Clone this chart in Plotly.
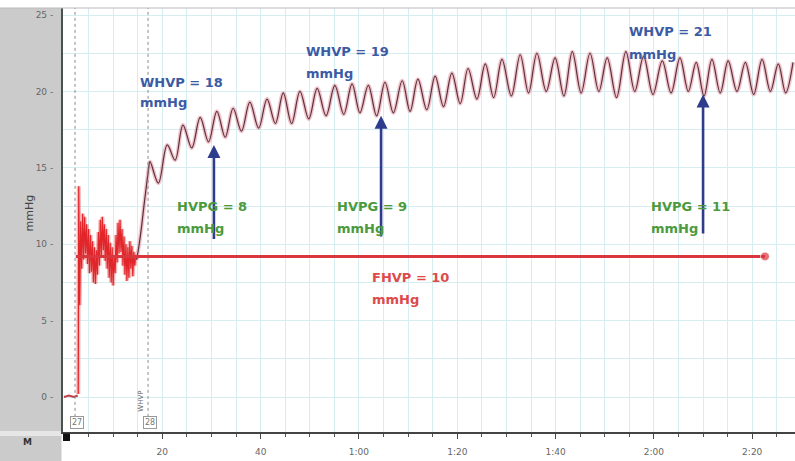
import plotly.graph_objects as go

# ---------------- data ----------------
# time in seconds, pressure in mmHg
baseline_t = [0.0, 1.0, 2.0, 2.8]
baseline_p = [0.0, 0.1, 0.0, 0.1]

noise_t = [2.9, 3.0, 3.2, 3.4, 3.6, 3.8, 4.0, 4.2, 4.4, 4.6, 4.8, 5.0, 5.2, 5.4, 5.6, 5.8,
           6.0, 6.2, 6.4, 6.6, 6.8, 7.0, 7.2, 7.4, 7.6, 7.8, 8.0, 8.2, 8.4, 8.6, 8.8,
           9.0, 9.2, 9.4, 9.6, 9.8, 10.0, 10.2, 10.4, 10.6, 10.8, 11.0, 11.2, 11.4,
           11.6, 11.8, 12.0, 12.2, 12.4, 12.6, 12.8, 13.0, 13.2, 13.4, 13.6, 13.8,
           14.0, 14.2, 14.4, 14.6, 14.8]
noise_p = [0.2, 13.8, 6.0, 11.5, 8.4, 12.0, 9.0, 11.8, 9.4, 11.3, 8.7, 11.0, 8.1, 10.6, 8.2, 10.2,
           7.5, 9.8, 7.4, 9.6, 8.0, 10.8, 8.6, 11.6, 9.2, 11.8, 9.6, 11.3, 8.9, 11.0, 8.4,
           10.6, 7.8, 10.1, 7.5, 9.8, 7.3, 9.3, 8.1, 10.6, 8.8, 11.4, 9.4, 11.6,
           9.5, 11.0, 8.6, 10.5, 8.0, 10.0, 7.6, 9.8, 7.8, 10.2, 8.4, 9.9,
           7.9, 9.5, 8.6, 9.3, 9.0]

rise_t = [14.8, 15.3, 15.8, 16.3, 16.8, 17.2]
rise_p = [9.0, 10.0, 11.2, 12.6, 13.9, 14.9]

peak_t = [17.5, 21.0, 24.2, 27.7, 31.1, 34.4, 37.8, 41.3, 44.6, 48.0, 51.5, 55.1, 58.6,
          61.9, 65.3, 68.8, 72.0, 75.5, 78.9, 82.2, 85.7, 89.1, 92.8, 96.2, 99.9, 103.4,
          107.0, 110.5, 114.3, 117.9, 121.7, 125.3, 128.6, 131.8, 135.1, 138.6, 142.0,
          145.3, 148.3]
peak_p = [15.4, 16.5, 17.8, 18.3, 18.7, 18.9, 19.3, 19.5, 19.9, 20.0, 20.2, 20.4, 20.5,
          20.4, 20.6, 20.7, 20.8, 21.0, 21.2, 21.5, 21.8, 22.1, 22.4, 22.5, 22.2, 22.6,
          22.5, 22.2, 22.6, 22.3, 22.0, 22.2, 21.9, 22.1, 22.0, 21.9, 22.1, 21.8, 21.9]
trough_t = [19.2, 22.6, 26.0, 29.4, 32.8, 36.1, 39.6, 43.0, 46.3, 49.8, 53.3, 56.9, 60.2,
            63.6, 67.0, 70.4, 73.8, 77.2, 80.6, 84.0, 87.4, 91.0, 94.5, 98.1, 101.7, 105.2,
            108.8, 112.4, 116.1, 119.8, 123.5, 127.0, 130.2, 133.5, 136.9, 140.3, 143.7,
            146.8]
trough_p = [14.0, 15.5, 16.3, 16.7, 17.0, 17.4, 17.6, 17.9, 17.9, 18.2, 18.4, 18.5, 18.6,
            18.4, 18.6, 18.7, 18.8, 19.0, 19.2, 19.5, 19.6, 19.7, 19.9, 20.0, 19.7, 19.9,
            20.0, 19.6, 20.0, 19.8, 19.9, 20.0, 19.7, 19.9, 20.0, 19.8, 20.0, 19.9]

fhvp_t = [2.4, 142.6]
fhvp_p = [9.2, 9.2]

arrow_t = [30.5, 64.5, 130.0]
arrow_bottom = [10.25, 10.4, 10.6]
arrow_top = [16.5, 18.4, 19.8]

whvp_labels = ["WHVP = 18", "WHVP = 19", "WHVP = 21"]
whvp_t = [15.1, 48.8, 114.5]
whvp_p = [20.6, 22.6, 23.9]
whvp_unit_p = [19.25, 21.2, 22.4]

hvpg_labels = ["HVPG = 8", "HVPG = 9", "HVPG = 11"]
hvpg_t = [22.6, 55.1, 119.0]
hvpg_p = [12.5, 12.5, 12.5]
hvpg_unit_p = [11.0, 11.0, 11.0]

fhvp_label = "FHVP = 10"
fhvp_label_t = 62.3
fhvp_label_p = 7.8
fhvp_unit_p = 6.35

x_tickvals = [20, 40, 60, 80, 100, 120, 140]
x_ticktext = ["20", "40", "1:00", "1:20", "1:40", "2:00", "2:20"]
y_tickvals = [0, 5, 10, 15, 20, 25]
y_ticktext = ["0 -", "5 -", "10 -", "15 -", "20 -", "25 -"]

marker_t = [2.25, 17.1]
marker_labels = ["27", "28"]

# ---------------- layout geometry ----------------
W, H = 795, 461
ML, MR, MT, MB = 63, 0, 8, 29
PW = W - ML - MR
PH = H - MT - MB

# merge peaks and troughs into one trace
main_pts = sorted(list(zip(peak_t, peak_p)) + list(zip(trough_t, trough_p)))
main_t = rise_t + [a for a, b in main_pts]
main_p = rise_p + [b for a, b in main_pts]

fig = go.Figure()

fig.add_trace(go.Scatter(x=baseline_t, y=baseline_p, mode="lines",
                         line=dict(color="#c0404a", width=2), hoverinfo="skip"))
fig.add_trace(go.Scatter(x=noise_t, y=noise_p, mode="lines",
                         line=dict(color="rgba(235,70,70,0.4)", width=4), hoverinfo="skip"))
fig.add_trace(go.Scatter(x=noise_t, y=noise_p, mode="lines",
                         line=dict(color="#e0262b", width=1.2), hoverinfo="skip"))
fig.add_trace(go.Scatter(x=main_t, y=main_p, mode="lines",
                         line=dict(color="rgba(225,125,135,0.45)", width=4, shape="spline", smoothing=1),
                         hoverinfo="skip"))
fig.add_trace(go.Scatter(x=main_t, y=main_p, mode="lines",
                         line=dict(color="#5a3040", width=1.2, shape="spline", smoothing=1),
                         hoverinfo="skip"))
fig.add_trace(go.Scatter(x=fhvp_t, y=fhvp_p, mode="lines+markers",
                         line=dict(color="#d9363e", width=3),
                         marker=dict(size=[0, 9], color="#d9363e"), hoverinfo="skip"))

ann = []
for t, b, tp in zip(arrow_t, arrow_bottom, arrow_top):
    ann.append(dict(x=t, y=tp, ax=t, ay=b, xref="x", yref="y", axref="x", ayref="y",
                    text="", showarrow=True, arrowhead=2, arrowsize=1, arrowwidth=2.6,
                    arrowcolor="#2d3c8c"))

lab_font = "DejaVu Sans"
for txt, t, p, up in zip(whvp_labels, whvp_t, whvp_p, whvp_unit_p):
    ann.append(dict(x=t, y=p, text=f"<b>{txt}</b>", showarrow=False, xanchor="left",
                    yanchor="middle", font=dict(family=lab_font, size=13, color="#3b5ba5")))
    ann.append(dict(x=t, y=up, text="<b>mmHg</b>", showarrow=False, xanchor="left",
                    yanchor="middle", font=dict(family=lab_font, size=13, color="#3b5ba5")))
for txt, t, p, up in zip(hvpg_labels, hvpg_t, hvpg_p, hvpg_unit_p):
    ann.append(dict(x=t, y=p, text=f"<b>{txt}</b>", showarrow=False, xanchor="left",
                    yanchor="middle", font=dict(family=lab_font, size=13, color="#4c9a3c")))
    ann.append(dict(x=t, y=up, text="<b>mmHg</b>", showarrow=False, xanchor="left",
                    yanchor="middle", font=dict(family=lab_font, size=13, color="#4c9a3c")))
ann.append(dict(x=fhvp_label_t, y=fhvp_label_p, text=f"<b>{fhvp_label}</b>", showarrow=False,
                xanchor="left", yanchor="middle",
                font=dict(family=lab_font, size=13, color="#dc4a4a")))
ann.append(dict(x=fhvp_label_t, y=fhvp_unit_p, text="<b>mmHg</b>", showarrow=False,
                xanchor="left", yanchor="middle",
                font=dict(family=lab_font, size=13, color="#dc4a4a")))

# event marker boxes
for t, lab in zip(marker_t, marker_labels):
    ann.append(dict(x=t + 0.3, y=-1.7, text=lab, showarrow=False, xanchor="center",
                    yanchor="middle", bordercolor="#999", borderwidth=1, borderpad=1,
                    bgcolor="white", font=dict(family="DejaVu Sans", size=8, color="#777")))
ann.append(dict(x=15.5, y=-0.3, text="WHVP", textangle=-90, showarrow=False,
                font=dict(family="DejaVu Sans", size=7, color="#666")))

# y axis title and corner letter
ann.append(dict(xref="paper", yref="paper", x=(21 - ML) / PW, y=1 - (213 - MT) / PH,
                text="mmHg", textangle=-90, showarrow=False,
                font=dict(family="DejaVu Sans", size=11, color="#444")))
ann.append(dict(xref="paper", yref="paper", x=(21 - ML) / PW, y=1 - (449 - MT) / PH,
                text="<b>M</b>", showarrow=False,
                font=dict(family="DejaVu Sans", size=9, color="#333")))

shapes = [
    dict(type="rect", xref="paper", yref="paper", x0=-ML / PW, x1=-1.5 / PW,
         y0=-MB / PH, y1=1, fillcolor="#cbcbcb", line=dict(width=0), layer="below"),
    dict(type="rect", xref="paper", yref="paper", x0=-ML / PW, x1=-1.5 / PW,
         y0=-4 / PH, y1=1 / PH, fillcolor="#e6e6e6", line=dict(width=0), layer="below"),
    dict(type="line", xref="paper", yref="paper", x0=-ML / PW, x1=1, y0=1, y1=1,
         line=dict(color="#bbbbbb", width=1)),
    dict(type="rect", xref="paper", yref="paper", x0=0, x1=7 / PW,
         y0=-9 / PH, y1=-1.5 / PH, fillcolor="#111", line=dict(width=0)),
]
for t in marker_t:
    shapes.append(dict(type="line", xref="x", yref="y", x0=t, x1=t, y0=-1.3, y1=25.46,
                       line=dict(color="#8a8a8a", width=1, dash="dot"), layer="above"))

grid_c = "#d6edf1"
fig.update_layout(
    width=W, height=H, margin=dict(l=ML, r=MR, t=MT, b=MB),
    paper_bgcolor="white", plot_bgcolor="white", showlegend=False,
    annotations=ann, shapes=shapes,
    xaxis=dict(range=[-0.2, 148.7], tickmode="array", tickvals=x_tickvals,
               ticktext=x_ticktext, showgrid=True, gridcolor=grid_c, zeroline=False,
               showline=True, linecolor="#444", linewidth=1.5, ticks="outside",
               ticklen=5, tickcolor="#444", ticklabelstandoff=5,
               tickfont=dict(family="DejaVu Sans", size=9, color="#666"),
               minor=dict(tickmode="linear", tick0=0, dtick=5, showgrid=True,
                          gridcolor=grid_c, ticks="outside", ticklen=3, tickcolor="#555")),
    yaxis=dict(range=[-2.29, 25.46], tickmode="array", tickvals=y_tickvals,
               ticktext=y_ticktext, showgrid=True, gridcolor=grid_c, zeroline=False,
               showline=True, linecolor="#48524f", linewidth=2, ticks="",
               ticklabelstandoff=6,
               tickfont=dict(family="DejaVu Sans", size=9, color="#666"),
               minor=dict(tickmode="linear", tick0=0, dtick=2.5, showgrid=True,
                          gridcolor=grid_c)),
)

fig.write_html("out.html", config={"displayModeBar": False},
               post_script="document.body.style.margin='0';document.body.style.overflow='hidden';")
